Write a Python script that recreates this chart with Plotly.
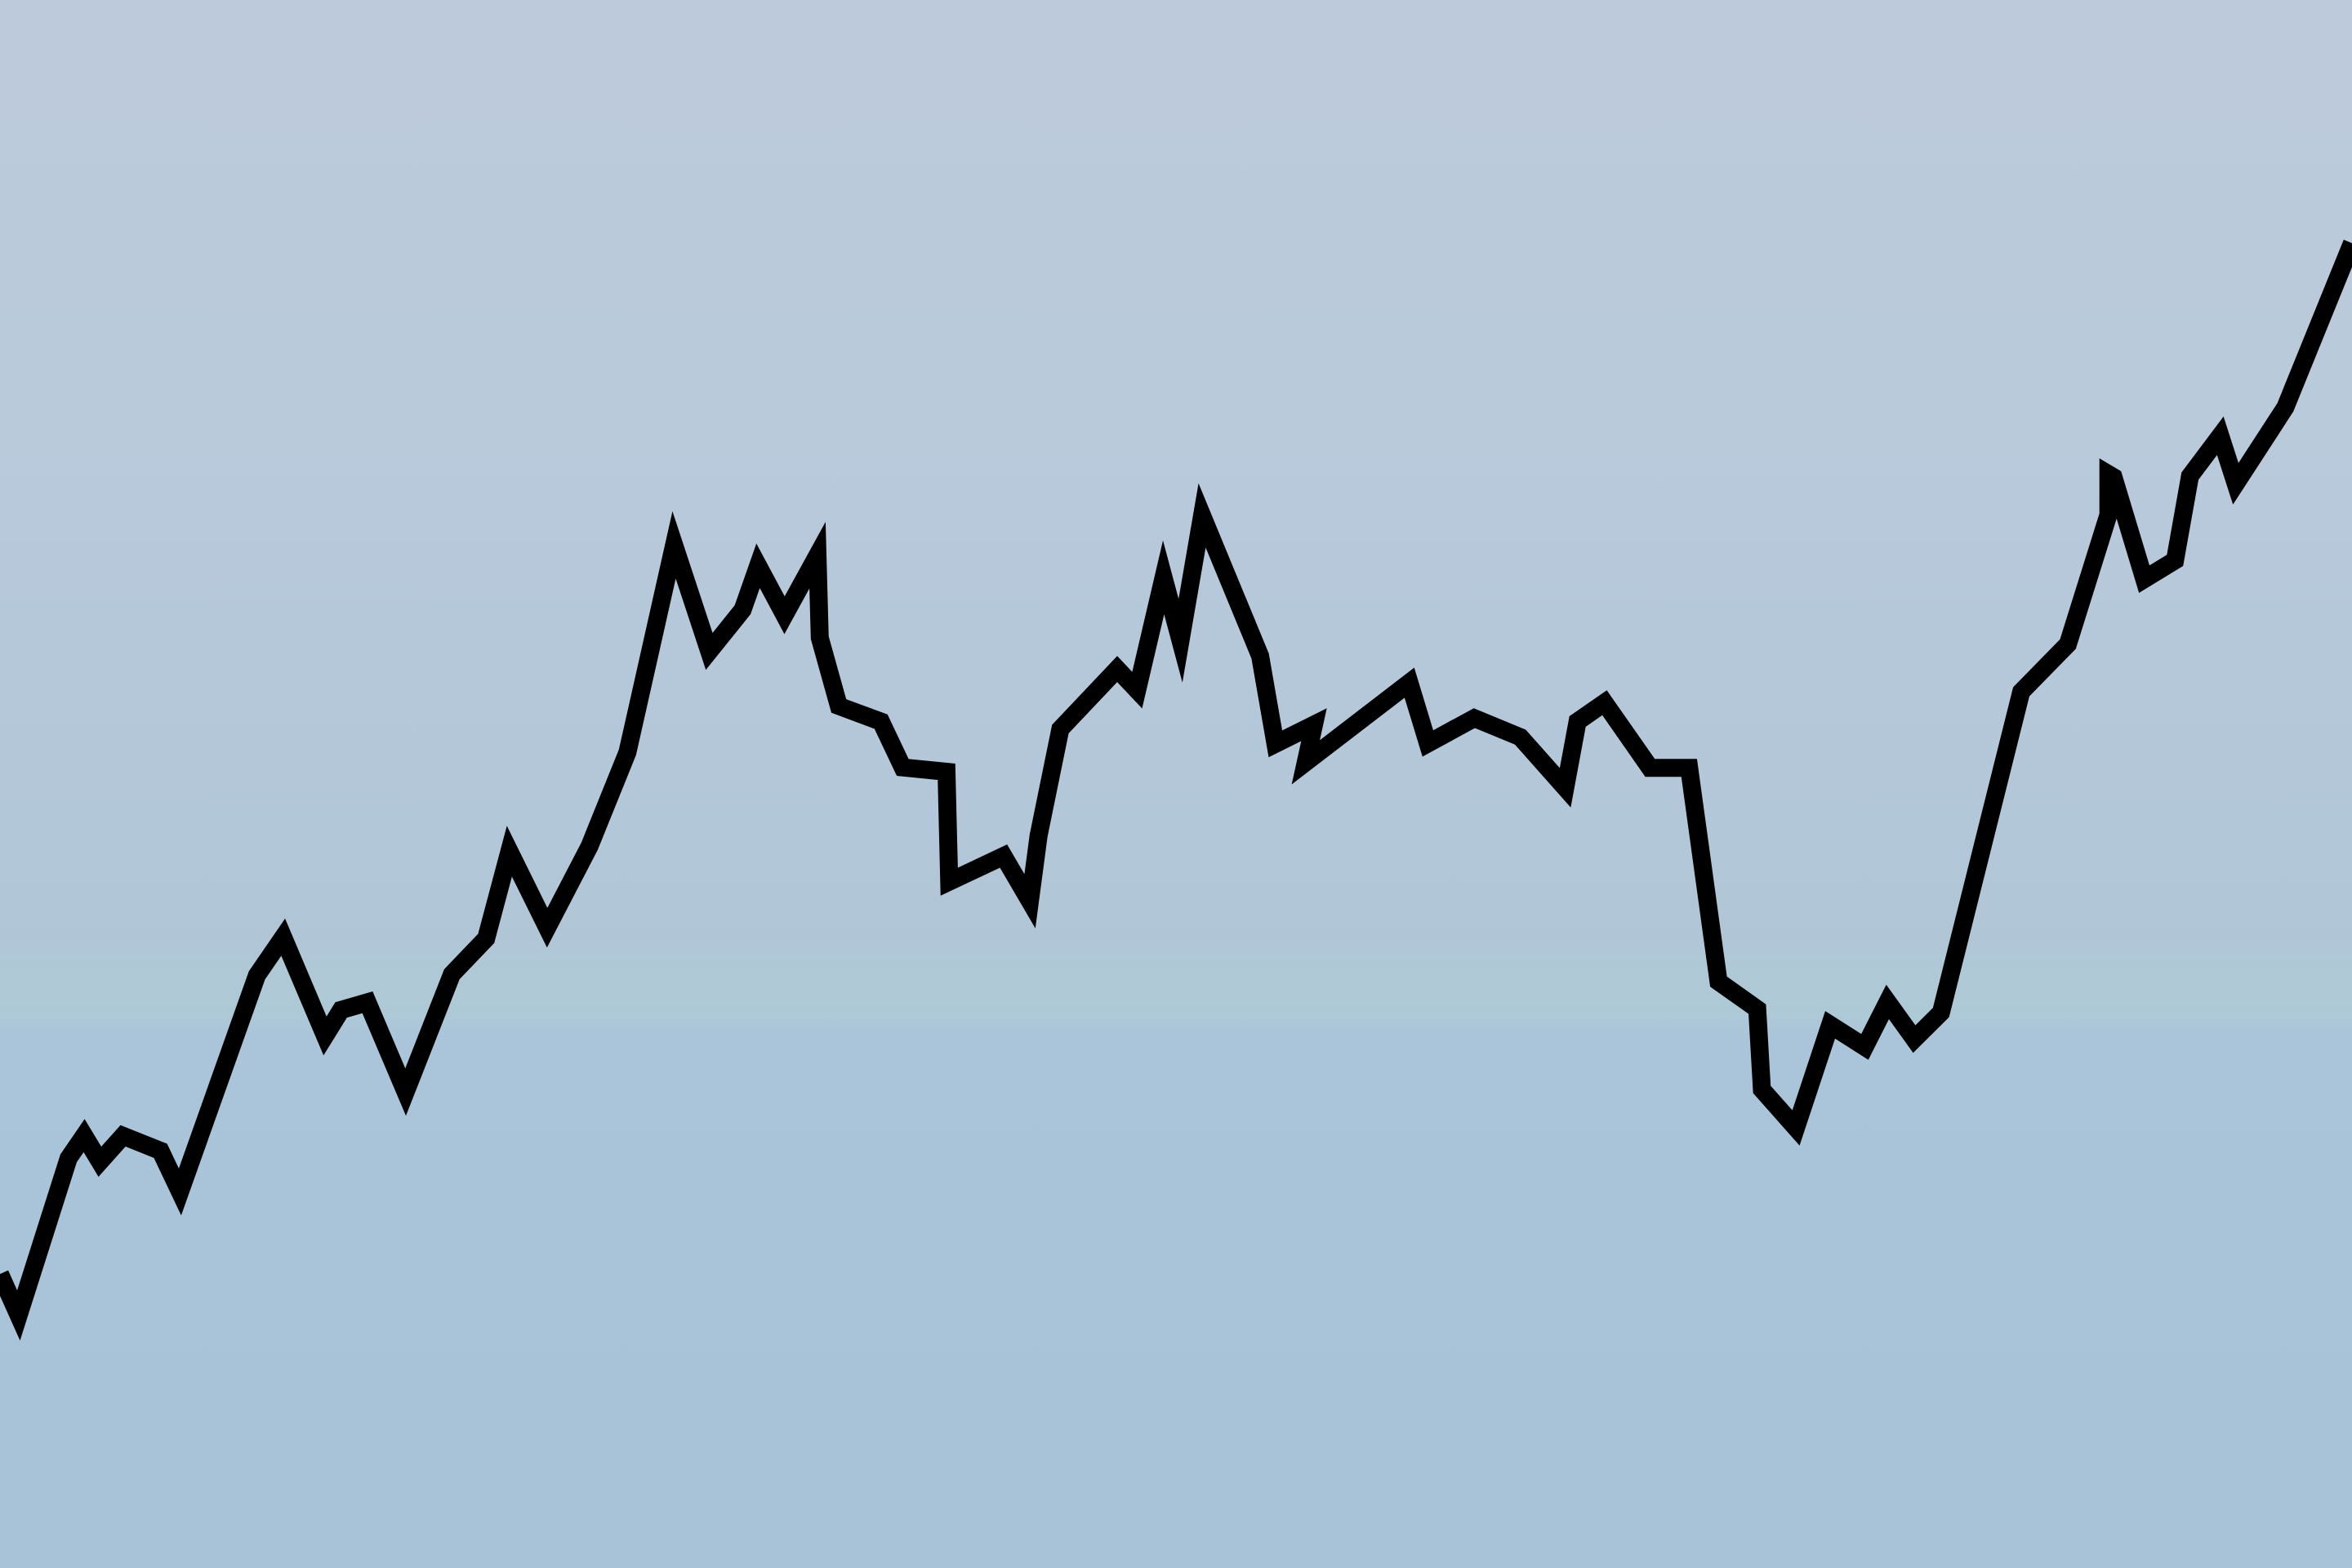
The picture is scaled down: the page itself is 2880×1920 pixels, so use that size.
import plotly.graph_objects as go

# ---- data (x position along the series, value) ----
day = [0, 12.4, 45.7, 56.1, 66.6, 82, 107, 120, 171.3, 188.8, 216.7, 227.4, 245,
       270.4, 301.3, 324.1, 339.6, 364.8, 393, 418.3, 449.4, 472.8, 495.1, 505.4,
       523, 545, 546.5, 559.2, 587.3, 601.8, 631, 632.8, 669, 686.6, 692.4, 706.9,
       744.8, 758.1, 775.7, 787, 801.4, 840.1, 850.3, 876, 870.5, 939.6, 951.9,
       982.9, 1013.6, 1043.5, 1051.7, 1069.7, 1100, 1126.1, 1145.7, 1171.5, 1174.6,
       1197.3, 1220.1, 1243.2, 1258.4, 1276.2, 1294, 1347.5, 1378.6, 1405.6, 1405.6,
       1409, 1429.5, 1450, 1460, 1480.2, 1490.5, 1523.6, 1568]
y_screen = [849, 876.7, 772, 756.8, 774.2, 757, 767, 794.4, 650, 624.6, 690.4, 673.1, 668,
            727.8, 649.2, 625.4, 567.3, 618.3, 564, 501.4, 363.2, 434.1, 406.4, 377.1,
            410, 370, 425, 470.5, 480.9, 511.4, 514.3, 587.6, 570.5, 600.6, 556.9, 485.9,
            445.9, 460, 384.8, 427, 343.5, 437.2, 495.8, 483, 508, 455, 495.5,
            478.6, 491.3, 525, 480.8, 468.3, 511.7, 511.7, 654.2, 672.5, 726.1,
            751.7, 683, 697.7, 667.7, 692.5, 674.8, 461, 429.3, 343, 316,
            318, 386, 373.5, 317.3, 290.4, 322.4, 271.4, 162]
Y_TOP = 1045
value = [round(Y_TOP - v, 1) for v in y_screen]

X_RANGE = [0, 1568]
Y_RANGE = [0, Y_TOP]

# background gradient colours (bottom -> top)
bg_stops = [
    [0.00, "#a8c2d7"],
    [0.20, "#a9c4d8"],
    [0.34, "#aac5d9"],
    [0.355, "#aec9d6"],
    [0.385, "#afc8d6"],
    [0.40, "#b0c6d7"],
    [0.55, "#b4c8da"],
    [0.75, "#b9cadb"],
    [1.00, "#bdcadb"],
]

fig = go.Figure()

fig.add_trace(go.Scatter(
    x=[X_RANGE[0], X_RANGE[1], X_RANGE[1], X_RANGE[0], X_RANGE[0]],
    y=[Y_RANGE[0], Y_RANGE[0], Y_RANGE[1], Y_RANGE[1], Y_RANGE[0]],
    mode="lines", fill="toself",
    line=dict(width=0, color="rgba(0,0,0,0)"),
    fillgradient=dict(type="vertical", colorscale=bg_stops,
                      start=Y_RANGE[0], stop=Y_RANGE[1]),
    hoverinfo="skip", showlegend=False,
))

fig.add_trace(go.Scatter(
    x=day, y=value, mode="lines",
    line=dict(color="#000000", width=22),
    hoverinfo="skip", showlegend=False,
))

fig.update_layout(
    width=2880, height=1920,
    margin=dict(l=0, r=0, t=0, b=0),
    paper_bgcolor="#b2c7d9",
    plot_bgcolor="#b2c7d9",
    xaxis=dict(visible=False, range=X_RANGE, fixedrange=True),
    yaxis=dict(visible=False, range=Y_RANGE, fixedrange=True),
    showlegend=False,
)

fig.write_html(
    "out.html",
    config={"displayModeBar": False, "staticPlot": True},
    post_script=(
        "document.body.style.margin='0';document.body.style.overflow='hidden';"
        "document.querySelectorAll('.scatterlayer .js-line').forEach(function(p){"
        "p.style.strokeLinejoin='miter';p.style.strokeMiterlimit='8';});"
    ),
)
